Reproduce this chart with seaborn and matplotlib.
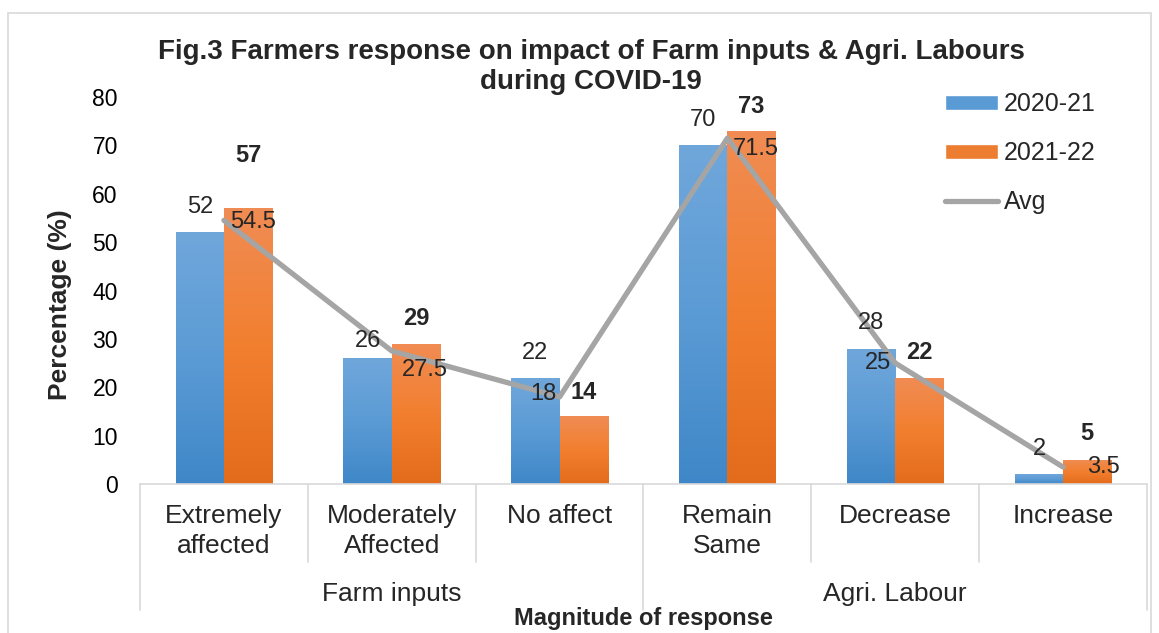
import matplotlib
matplotlib.use("Agg")
import matplotlib.pyplot as plt
import matplotlib.transforms as mtransforms
from matplotlib.colors import LinearSegmentedColormap
from matplotlib.patches import Patch, Rectangle
from matplotlib.lines import Line2D
import seaborn as sns
import pandas as pd
import numpy as np

# data
categories = ["Extremely\naffected", "Moderately\nAffected", "No affect",
              "Remain\nSame", "Decrease", "Increase"]
groups = ["Farm inputs", "Agri. Labour"]
group_size = [3, 3]
y2020 = [52, 26, 22, 70, 28, 2]
y2021 = [57, 29, 14, 73, 22, 5]
avg = [54.5, 27.5, 18, 71.5, 25, 3.5]

# label placement (pixels)
lift2020 = [25, 17, 25, 25, 26, 25]
lift2021 = [53, 25, 24, 24, 25, 26]
avg_dx = [6, 10, -3, 5, -4, 24]
avg_dy = [-2, -19, 3, -11, 0, 0]
avg_ha = ["left", "left", "right", "left", "right", "left"]

sns.set_style("white")
plt.rcParams["font.family"] = ["Liberation Sans", "DejaVu Sans"]

W, H = 1159, 633
fig = plt.figure(figsize=(W / 100, H / 100), dpi=100)
ax = fig.add_axes([140 / W, 1 - 484 / H, 1007 / W, 387 / H])

df = pd.DataFrame({
    "cat": categories * 2,
    "val": y2020 + y2021,
    "year": ["2020-21"] * 6 + ["2021-22"] * 6,
})
sns.barplot(data=df, x="cat", y="val", hue="year", width=0.575,
            palette=["#5b9bd5", "#ed7d31"], legend=False, ax=ax,
            saturation=1, linewidth=0)

# excel-like vertical gradient on each bar
grads = [["#3f87c8", "#5b9bd5", "#70a7db"], ["#e36c1c", "#f27f2f", "#f08c54"]]
grad = np.linspace(0, 1, 256).reshape(-1, 1)
for cont, cols in zip(ax.containers, grads):
    cmap = LinearSegmentedColormap.from_list("g", cols)
    for p in cont:
        x0, y0, w, h = p.get_x(), p.get_y(), p.get_width(), p.get_height()
        im = ax.imshow(grad, extent=[x0, x0 + w, y0, y0 + h], origin="lower",
                       aspect="auto", cmap=cmap, zorder=1)
        im.set_clip_path(p)
        p.set_facecolor("none")

xs = np.arange(len(categories))
ax.plot(xs, avg, color="#a5a5a5", lw=3.8, solid_capstyle="round", zorder=3)

# series labels
for cont, lifts, bold in zip(ax.containers, [lift2020, lift2021], [False, True]):
    for p, lift in zip(cont, lifts):
        ax.annotate(f"{p.get_height():g}", (p.get_x() + p.get_width() / 2, p.get_height()),
                    xytext=(0, lift), textcoords="offset pixels", ha="center", va="center",
                    fontsize=17, fontweight="bold" if bold else "normal", zorder=5)
for x, v, dx, dy, ha in zip(xs, avg, avg_dx, avg_dy, avg_ha):
    ax.annotate(f"{v:g}", (x, v), xytext=(dx, dy), textcoords="offset pixels",
                ha=ha, va="center", fontsize=17, zorder=5)

ax.set_xlim(-0.5, len(categories) - 0.5)
ax.set_ylim(0, 80)
ax.set_yticks(range(0, 81, 10))
ax.tick_params(axis="y", length=0, pad=16, labelsize=16.5, labelcolor="black")
ax.set_xticks([])
ax.set_xlabel("")
for s in ["left", "right", "top"]:
    ax.spines[s].set_visible(False)
ax.spines["bottom"].set_color("#d9d9d9")
ax.spines["bottom"].set_linewidth(1.2)

# two-level category axis
bt = mtransforms.blended_transform_factory(ax.transData, fig.transFigure)
fy = lambda px: 1 - px / H
for x, c in zip(xs, categories):
    ax.text(x, fy(504), c, transform=bt, ha="center", va="top", fontsize=19,
            linespacing=1.3)
bounds = np.cumsum([0] + group_size)
for b in range(len(categories) + 1):
    bottom = 610 if b in bounds else 562
    ax.add_line(Line2D([b - 0.5, b - 0.5], [fy(484), fy(bottom)], transform=bt,
                       color="#d9d9d9", lw=1.2, clip_on=False))
for g, s0, s1 in zip(groups, bounds[:-1], bounds[1:]):
    ax.text((s0 + s1 - 1) / 2, fy(594), g, transform=bt, ha="center", va="center",
            fontsize=19)

ax.set_ylabel("Percentage (%)", fontsize=19, fontweight="bold", va="center")
ax.yaxis.set_label_coords((60 - 140) / 1007, (484 - 305) / 387)
fig.text(643.5 / W, fy(619), "Magnitude of response", ha="center", va="center",
         fontsize=17, fontweight="bold")

fig.text(591 / W, fy(67), "Fig.3 Farmers response on impact of Farm inputs & Agri. Labours\nduring COVID-19",
         ha="center", va="center", fontsize=20, fontweight="bold", linespacing=1.22)

handles = [Patch(facecolor="#5b9bd5", label="2020-21"),
           Patch(facecolor="#ed7d31", label="2021-22"),
           Line2D([], [], color="#a5a5a5", lw=3.8, solid_capstyle="round", label="Avg")]
ax.legend(handles=handles, loc="upper left", bbox_to_anchor=(945 / W, fy(92)),
          bbox_transform=fig.transFigure, frameon=False, fontsize=18,
          handlelength=2.1, handleheight=0.55, handletextpad=0.25,
          labelspacing=1.0, borderpad=0, borderaxespad=0)

fig.add_artist(Rectangle((8 / W, -0.05), (1151 - 8) / W, 0.05 + fy(13),
                         transform=fig.transFigure, fill=False, ec="#d9d9d9", lw=1.2))

fig.savefig("out.png", dpi=100)
